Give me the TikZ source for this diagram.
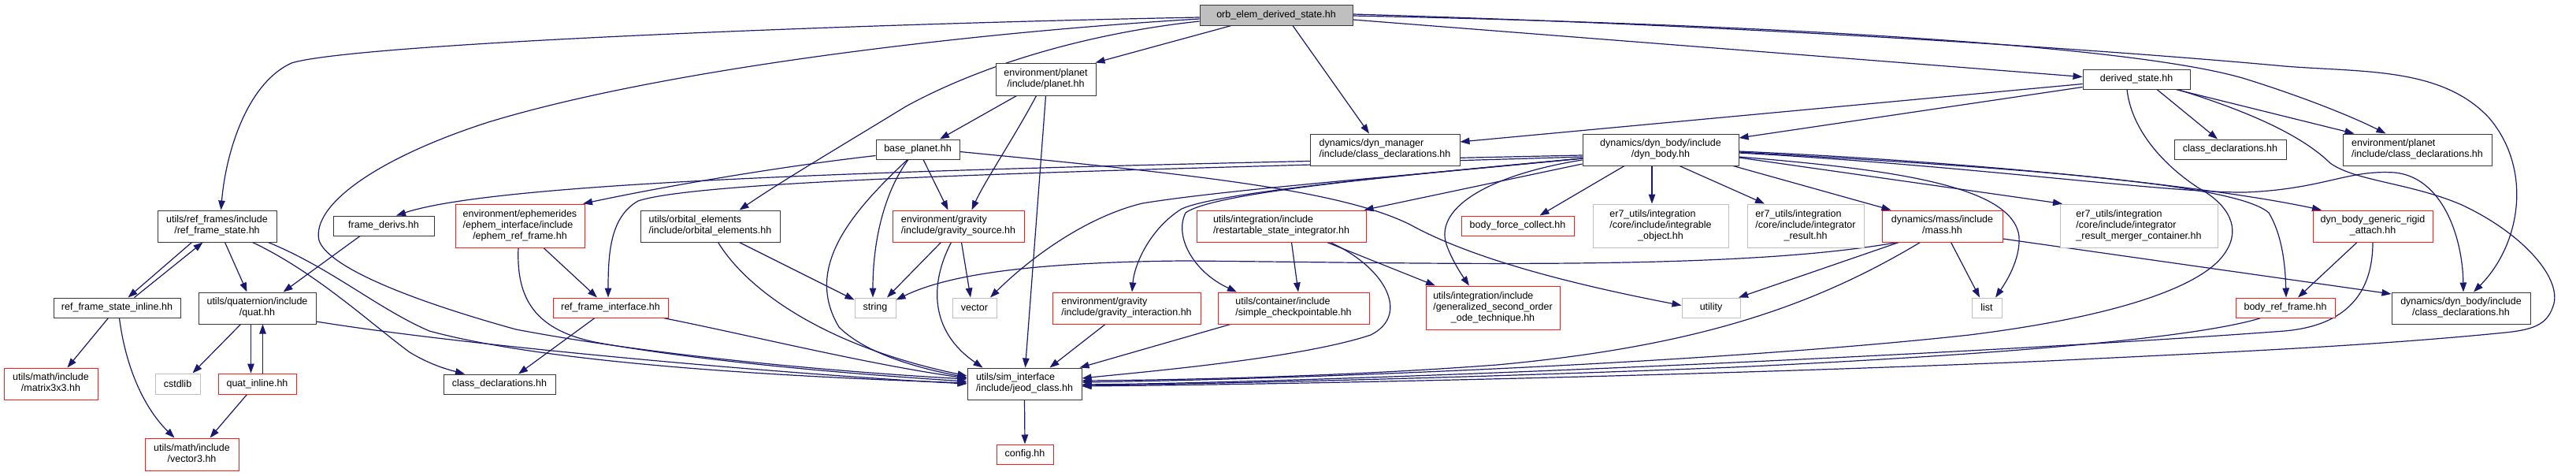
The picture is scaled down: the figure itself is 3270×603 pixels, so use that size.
\documentclass[tikz,border=0pt]{standalone}
\usepackage{fontspec}
\setmainfont{Liberation Sans}
\usetikzlibrary{arrows.meta,calc}
\pgfdeclarelayer{bg}
\pgfdeclarelayer{edges}
\pgfsetlayers{bg,edges,main}
\definecolor{edgec}{HTML}{191970}
\definecolor{bord}{HTML}{383838}
\definecolor{redb}{HTML}{FF1A1A}
\definecolor{greyb}{HTML}{BFBFBF}
\definecolor{rootfill}{HTML}{BFBFBF}
\newcommand\Lt[2]{\begin{tabular}{@{}l@{}}#1\\\multicolumn{1}{@{}c@{}}{#2}\end{tabular}}
\newcommand\Lth[3]{\begin{tabular}{@{}l@{}}#1\\#2\\\multicolumn{1}{@{}c@{}}{#3}\end{tabular}}
\begin{document}
\begin{tikzpicture}[x=1pt,y=-1pt,
  nb/.style={draw=bord,fill=white,line width=1pt,inner sep=0pt,font=\fontsize{12.5}{14}\selectfont,text=black},
  nred/.style={nb,draw=redb},
  next/.style={nb,draw=greyb},
  e/.style={draw=edgec,line width=1.2pt,-{Triangle[length=12pt,width=8.5pt]}}]
\begin{pgfonlayer}{bg}
\fill[white] (0,0) rectangle (3270,603);
\end{pgfonlayer}
\useasboundingbox (0,0) rectangle (3270,603);
% nodes
\node[nb,fill=rootfill,minimum width=194pt,minimum height=26pt] (root) at (1620,19) {orb\_elem\_derived\_state.hh};
\node[nb,minimum width=127pt,minimum height=41pt] (planet) at (1327.5,100.5) {\Lt{environment/planet}{/include/planet.hh}};
\node[nb,minimum width=106pt,minimum height=25pt] (bplanet) at (1165,189.5) {base\_planet.hh};
\node[nred,minimum width=167pt,minimum height=40pt] (gsrc) at (1216.5,287) {\Lt{environment/gravity}{/include/gravity\_source.hh}};
\node[nb,minimum width=136pt,minimum height=25pt] (derived) at (2712,100.5) {derived\_state.hh};
\node[nb,minimum width=190pt,minimum height=40pt] (dmcd) at (1758,190) {\Lt{dynamics/dyn\_manager}{/include/class\_declarations.hh}};
\node[nb,minimum width=198pt,minimum height=40pt] (dbody) at (2108,190) {\Lt{dynamics/dyn\_body/include}{/dyn\_body.hh}};
\node[nb,minimum width=142pt,minimum height=25pt] (cdloc) at (2831,189.5) {class\_declarations.hh};
\node[nb,minimum width=189pt,minimum height=40pt] (epcd) at (3068.5,190) {\Lt{environment/planet}{/include/class\_declarations.hh}};
\node[nb,minimum width=151pt,minimum height=40pt] (rfs) at (275.5,287) {\Lt{utils/ref\_frames/include}{/ref\_frame\_state.hh}};
\node[nb,minimum width=128pt,minimum height=25pt] (fder) at (487,286.5) {frame\_derivs.hh};
\node[nred,minimum width=164pt,minimum height=55pt] (ephem) at (660,286.5) {\Lth{environment/ephemerides}{/ephem\_interface/include}{/ephem\_ref\_frame.hh}};
\node[nb,minimum width=177pt,minimum height=40pt] (orbel) at (901.5,287) {\Lt{utils/orbital\_elements}{/include/orbital\_elements.hh}};
\node[nred,minimum width=215pt,minimum height=40pt] (rsi) at (1626.5,287) {\Lt{utils/integration/include}{/restartable\_state\_integrator.hh}};
\node[nred,minimum width=143pt,minimum height=25pt] (bfc) at (1926.5,286.5) {body\_force\_collect.hh};
\node[next,minimum width=172pt,minimum height=55pt] (integ) at (2108,286.5) {\Lth{er7\_utils/integration}{/core/include/integrable}{\_object.hh}};
\node[next,minimum width=148pt,minimum height=55pt] (ires) at (2292,286.5) {\Lth{er7\_utils/integration}{/core/include/integrator}{\_result.hh}};
\node[nred,minimum width=153pt,minimum height=40pt] (mass) at (2465.5,287) {\Lt{dynamics/mass/include}{/mass.hh}};
\node[next,minimum width=200pt,minimum height=55pt] (merger) at (2715,286.5) {\Lth{er7\_utils/integration}{/core/include/integrator}{\_result\_merger\_container.hh}};
\node[nred,minimum width=152pt,minimum height=40pt] (rigid) at (3012,287) {\Lt{dyn\_body\_generic\_rigid}{\_attach.hh}};
\node[nb,minimum width=161pt,minimum height=25pt] (rfsi) at (148.5,390.5) {ref\_frame\_state\_inline.hh};
\node[nb,minimum width=149pt,minimum height=40pt] (quat) at (326.5,391) {\Lt{utils/quaternion/include}{/quat.hh}};
\node[nb,minimum width=142pt,minimum height=25pt] (cdrf) at (634,487.5) {class\_declarations.hh};
\node[nred,minimum width=146pt,minimum height=25pt] (rfi) at (775,390.5) {ref\_frame\_interface.hh};
\node[next,minimum width=52pt,minimum height=25pt] (str) at (1111,390.5) {string};
\node[next,minimum width=56pt,minimum height=25pt] (vec) at (1237,390.5) {vector};
\node[nred,minimum width=188pt,minimum height=40pt] (gint) at (1430,391) {\Lt{environment/gravity}{/include/gravity\_interaction.hh}};
\node[nred,minimum width=192pt,minimum height=40pt] (simple) at (1642,391) {\Lt{utils/container/include}{/simple\_checkpointable.hh}};
\node[nred,minimum width=170pt,minimum height=55pt] (gsoot) at (1895,390.5) {\Lth{utils/integration/include}{/generalized\_second\_order}{\_ode\_technique.hh}};
\node[next,minimum width=74pt,minimum height=25pt] (util) at (2172,390.5) {utility};
\node[next,minimum width=38pt,minimum height=25pt] (list) at (2522,390.5) {list};
\node[nred,minimum width=126pt,minimum height=25pt] (brf) at (2901,390.5) {body\_ref\_frame.hh};
\node[nb,minimum width=176pt,minimum height=40pt] (dbcd) at (3124,391) {\Lt{dynamics/dyn\_body/include}{/class\_declarations.hh}};
\node[nred,minimum width=119pt,minimum height=40pt] (m3) at (64.5,487) {\Lt{utils/math/include}{/matrix3x3.hh}};
\node[next,minimum width=57pt,minimum height=26pt] (cstd) at (225.5,487) {cstdlib};
\node[nred,minimum width=99pt,minimum height=26pt] (qinl) at (326.5,487) {quat\_inline.hh};
\node[nb,minimum width=145pt,minimum height=40pt] (jeod) at (1300.5,487) {\Lt{utils/sim\_interface}{/include/jeod\_class.hh}};
\node[nred,minimum width=119pt,minimum height=41pt] (v3) at (243.5,576.5) {\Lt{utils/math/include}{/vector3.hh}};
\node[nred,minimum width=72pt,minimum height=25pt] (config) at (1301,576.5) {config.hh};
% edges
\begin{pgfonlayer}{edges}
% root
\draw[e] ($(root.west)+(0,3)$) .. controls (1100,30) and (450,55) .. (370,80) .. controls (315,105) and (287,190) .. ($(rfs.north)+(5,0)$);
\draw[e] ($(root.west)+(0,5)$) .. controls (1250,40) and (850,85) .. (620,155) .. controls (480,200) and (395,260) .. (405,305) .. controls (415,335) and (500,375) .. (655,418) .. controls (850,455) and (1100,474) .. ($(jeod.west)+(0,-6)$);
\draw[e] ($(root.west)+(0,8)$) .. controls (1400,40) and (1260,75) .. (1150,135) .. controls (1060,190) and (1000,225) .. ($(orbel.north)+(37,0)$);
\draw[e] ($(root.south)+(-57,0)$) -- ($(planet.north)+(63,0)$);
\draw[e] ($(root.south)+(21,0)$) -- ($(dmcd.north)+(-20,0)$);
\draw[e] ($(root.east)+(0,6)$) -- ($(derived.west)+(0,-3)$);
\draw[e] ($(root.east)+(0,1)$) .. controls (2200,30) and (2700,55) .. (2850,100) .. controls (2930,125) and (2990,150) .. ($(epcd.north)+(-40,0)$);
\draw[e] ($(root.east)+(0,-1)$) .. controls (2300,35) and (2750,70) .. (2900,84) .. controls (3000,92) and (3100,85) .. (3160,150) .. controls (3215,215) and (3200,310) .. ($(dbcd.north)+(16,0)$);
% derived
\draw[e] ($(derived.west)+(0,6)$) -- ($(dmcd.east)+(0,-10)$);
\draw[e] ($(derived.west)+(0,10)$) -- ($(dbody.east)+(0,-15)$);
\draw[e] ($(derived.south)+(26,0)$) -- ($(cdloc.north)+(-16,0)$);
\draw[e] ($(derived.south)+(50,0)$) -- ($(epcd.north)+(-80,0)$);
\draw[e] ($(derived.south)+(52,0)$) .. controls (2850,140) and (2920,170) .. (2958,207) .. controls (2990,230) and (3060,232) .. (3125,260) .. controls (3200,295) and (3250,350) .. (3242,385) .. controls (3235,410) and (3220,418) .. (3180,422) .. controls (3000,440) and (2800,448) .. (2600,458) .. controls (2200,475) and (1700,487) .. ($(jeod.east)+(0,3)$);
\draw[e] ($(derived.south)+(-12,0)$) .. controls (2705,160) and (2740,205) .. (2790,238) .. controls (2830,260) and (2845,290) .. (2825,320) .. controls (2800,360) and (2700,400) .. (2500,425) .. controls (2200,458) and (1700,480) .. ($(jeod.east)+(0,-2)$);
% dyn_body
\draw[e] ($(dbody.south)+(-46,0)$) -- ($(bfc.north)+(28,0)$);
\draw[e] ($(dbody.south)+(-11,0)$) -- ($(integ.north)+(-11,0)$);
\draw[e] ($(dbody.south)+(24,0)$) -- ($(ires.north)+(-52,0)$);
\draw[e] ($(dbody.south)+(92,0)$) -- ($(mass.north)+(-65,0)$);
\draw[e] ($(dbody.east)+(0,10)$) -- ($(merger.north)+(-97,0)$);
\draw[e] ($(dbody.east)+(0,9)$) .. controls (2400,215) and (2555,235) .. (2563,300) .. controls (2565,330) and (2545,360) .. ($(list.north)+(11,0)$);
\draw[e] ($(dbody.east)+(0,2)$) .. controls (2500,205) and (2800,235) .. ($(rigid.north)+(-65,0)$);
\draw[e] ($(dbody.east)+(0,3)$) .. controls (2600,215) and (2840,235) .. (2880,270) .. controls (2898,300) and (2901,340) .. ($(brf.north)+(1,0)$);
\draw[e] ($(dbody.east)+(0,4)$) .. controls (2500,210) and (2750,245) .. (2850,244) .. controls (2950,240) and (2980,215) .. (3040,219) .. controls (3100,225) and (3126,300) .. ($(dbcd.north)+(3,0)$);
\draw[e] ($(dbody.west)+(0,18)$) -- ($(rsi.north)+(105,0)$);
\draw[e] ($(dbody.west)+(0,13)$) .. controls (1900,220) and (1820,260) .. (1836,310) .. controls (1843,330) and (1855,348) .. ($(gsoot.north)+(-30,0)$);
\draw[e] ($(dbody.west)+(0,11)$) .. controls (1800,222) and (1560,240) .. (1450,258) .. controls (1380,275) and (1310,325) .. ($(vec.north)+(20,0)$);
\draw[e] ($(dbody.west)+(0,11)$) .. controls (1750,225) and (1545,245) .. (1500,265) .. controls (1460,290) and (1440,335) .. ($(gint.north)+(7,0)$);
\draw[e] ($(dbody.west)+(0,11)$) .. controls (1750,225) and (1540,245) .. (1505,270) .. controls (1490,300) and (1515,345) .. ($(simple.north)+(-72,0)$);
\draw[e] ($(dbody.west)+(0,7)$) .. controls (1300,212) and (650,225) .. ($(fder.north)+(16,0)$);
\draw[e] ($(dbody.west)+(0,9)$) .. controls (1500,215) and (900,225) .. (810,255) .. controls (775,275) and (772,320) .. ($(rfi.north)+(-3,0)$);
% planet
\draw[e] ($(planet.south)+(-37,0)$) -- ($(bplanet.north)+(28,0)$);
\draw[e] ($(planet.south)+(-12,0)$) .. controls (1290,170) and (1250,230) .. ($(gsrc.north)+(17,0)$);
\draw[e] (planet.south) -- ($(jeod.north)+(1,0)$);
% base_planet
\draw[e] ($(bplanet.south)+(7,0)$) -- ($(gsrc.north)+(-13,0)$);
\draw[e] ($(bplanet.west)+(0,8)$) .. controls (1000,210) and (850,235) .. ($(ephem.north)+(80,0)$);
\draw[e] ($(bplanet.south)+(-12,0)$) .. controls (1125,240) and (1108,300) .. ($(str.north)+(-3,0)$);
\draw[e] ($(bplanet.south)+(-13,0)$) .. controls (1080,270) and (1020,340) .. (1065,415) .. controls (1100,450) and (1170,468) .. ($(jeod.west)+(0,-8)$);
\draw[e] ($(bplanet.east)+(0,3)$) .. controls (1500,220) and (1700,240) .. (1790,285) .. controls (1850,318) and (1950,352) .. ($(util.west)+(0,-3)$);
% gravity source
\draw[e] ($(gsrc.south)+(-22,0)$) -- ($(str.north)+(15,0)$);
\draw[e] ($(gsrc.south)+(4,0)$) -- ($(vec.north)+(-5,0)$);
\draw[e] ($(gsrc.south)+(-9,0)$) .. controls (1180,360) and (1180,420) .. ($(jeod.north)+(-53,0)$);
\draw[e] ($(gint.south)+(-27,0)$) -- ($(jeod.north)+(32,0)$);
\draw[e] ($(simple.south)+(-80,0)$) -- ($(jeod.north)+(70,0)$);
% restartable
\draw[e] ($(rsi.south)+(13,0)$) -- ($(simple.north)+(6,0)$);
\draw[e] ($(rsi.south)+(58,0)$) -- ($(gsoot.north)+(-73,0)$);
\draw[e] ($(rsi.south)+(62,0)$) .. controls (1760,340) and (1790,400) .. (1740,425) .. controls (1650,455) and (1450,472) .. ($(jeod.east)+(0,-7)$);
% orbital elements
\draw[e] ($(orbel.south)+(37,0)$) -- ($(str.west)+(0,-10)$);
\draw[e] ($(orbel.south)+(10,0)$) .. controls (950,370) and (1050,440) .. ($(jeod.west)+(0,-10)$);
% ephem
\draw[e] ($(ephem.south)+(30,0)$) -- ($(rfi.north)+(-17,0)$);
\draw[e] ($(ephem.south)+(-2,0)$) .. controls (655,380) and (680,420) .. (760,435) .. controls (900,460) and (1100,476) .. ($(jeod.west)+(0,-3)$);
% ref frame interface
\draw[e] ($(rfi.south)+(-20,0)$) -- ($(cdrf.north)+(24,0)$);
\draw[e] ($(rfi.south)+(67,0)$) .. controls (950,425) and (1100,462) .. ($(jeod.west)+(0,-7)$);
% ref frame state
\draw[e] ($(rfs.south)+(-32,0)$) -- ($(rfsi.north)+(14,0)$);
\draw[e] ($(rfsi.north)+(22,0)$) -- ($(rfs.south)+(-18,0)$);
\draw[e] ($(rfs.south)+(10,0)$) -- ($(quat.north)+(-13,0)$);
\draw[e] ($(rfs.south)+(45,0)$) .. controls (400,345) and (470,410) .. (520,447) .. controls (545,462) and (565,468) .. ($(cdrf.north)+(-44,0)$);
\draw[e] ($(rfs.south)+(65,0)$) .. controls (420,340) and (480,392) .. (545,420) .. controls (700,462) and (1000,478) .. ($(jeod.west)+(0,-1)$);
% quat
\draw[e] ($(quat.east)+(0,17)$) .. controls (600,440) and (1000,475) .. (jeod.west);
\draw[e] ($(quat.south)+(-21,0)$) -- ($(cstd.north)+(19,0)$);
\draw[e] ($(quat.south)+(-8,0)$) -- ($(qinl.north)+(-8,0)$);
\draw[e] ($(qinl.north)+(7,0)$) -- ($(quat.south)+(7,0)$);
\draw[e] ($(qinl.south)+(-13,0)$) -- ($(v3.north)+(23,0)$);
\draw[e] ($(rfsi.south)+(-11,0)$) -- ($(m3.north)+(21,0)$);
\draw[e] ($(rfsi.south)+(3,0)$) .. controls (160,470) and (185,520) .. ($(v3.north)+(-22,0)$);
\draw[e] ($(fder.south)+(-30,0)$) -- ($(quat.north)+(33,0)$);
\draw[e] (jeod.south) -- (config.north);
% mass
\draw[e] ($(mass.south)+(11,0)$) -- ($(list.north)+(-9,0)$);
\draw[e] ($(mass.south)+(-55,0)$) -- ($(util.north)+(35,0)$);
\draw[e] ($(mass.south)+(-57,0)$) .. controls (2200,345) and (1800,333) .. (1500,331) .. controls (1300,333) and (1200,350) .. ($(str.east)+(0,-10)$);
\draw[e] ($(mass.south)+(-28,0)$) .. controls (2300,390) and (2150,440) .. (1900,463) .. controls (1700,478) and (1500,482) .. ($(jeod.east)+(0,-4)$);
\draw[e] ($(mass.east)+(0,16)$) -- ($(dbcd.west)+(0,-18)$);
% rigid attach / body ref frame
\draw[e] ($(rigid.south)+(-20,0)$) -- ($(brf.north)+(16,0)$);
\draw[e] (rigid.south) .. controls (3012,360) and (2990,412) .. (2900,420) .. controls (2500,450) and (1700,485) .. ($(jeod.east)+(0,1)$);
\draw[e] ($(brf.south)+(-31,0)$) .. controls (2800,425) and (2600,447) .. (2200,466) .. controls (1900,478) and (1600,486) .. ($(jeod.east)+(0,2)$);
\end{pgfonlayer}
\end{tikzpicture}
\end{document}
